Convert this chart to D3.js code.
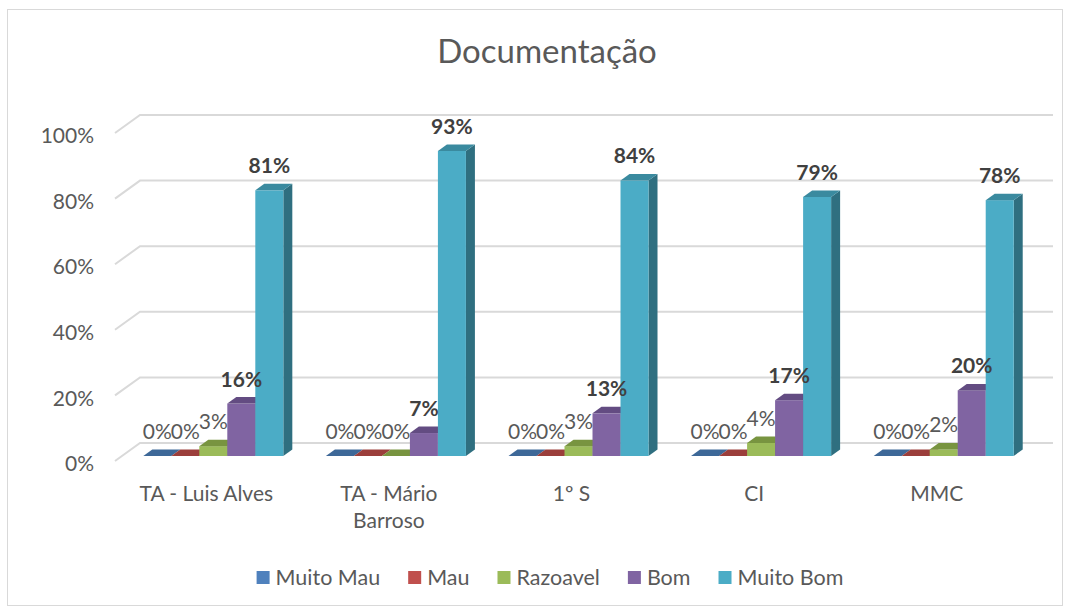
<!DOCTYPE html>
<html>
<head>
<meta charset="utf-8">
<script src="https://cdn.jsdelivr.net/npm/d3@7"></script>
<style>
  body { margin: 0; background: #fff; }
  text { font-family: Lato, "Open Sans", sans-serif; }
</style>
</head>
<body>
<svg id="chart" width="1072" height="612"></svg>
<script>
// data
const categories = ['TA - Luis Alves', 'TA - Mário Barroso', '1º S', 'CI', 'MMC'];
const seriesNames = ['Muito Mau', 'Mau', 'Razoavel', 'Bom', 'Muito Bom'];
const muitoMau = [0, 0, 0, 0, 0];
const mau = [0, 0, 0, 0, 0];
const razoavel = [0.03, 0, 0.03, 0.04, 0.02];
const bom = [0.16, 0.07, 0.13, 0.17, 0.20];
const muitoBom = [0.81, 0.93, 0.84, 0.79, 0.78];
const yTicks = [0, 0.2, 0.4, 0.6, 0.8, 1];

const seriesValues = [muitoMau, mau, razoavel, bom, muitoBom];
const frontColors = ['#4f81bd', '#c0504d', '#9bbb59', '#8064a2', '#4bacc6'];
const topColors = ['#3d6898', '#9b3e3b', '#789440', '#634c82', '#3a8a9f'];
const sideColors = ['#31547e', '#7f302e', '#5f7733', '#4f3c69', '#2f6f80'];
const boldLabel = [false, false, false, true, true];

const svg = d3.select('#chart');

// chart border
svg.append('rect')
  .attr('x', 7.5).attr('y', 9.5)
  .attr('width', 1055).attr('height', 596)
  .attr('fill', '#fff')
  .attr('stroke', '#d9d9d9');

svg.append('text')
  .attr('x', 547).attr('y', 63)
  .attr('text-anchor', 'middle')
  .attr('font-size', 33)
  .attr('fill', '#595959')
  .text('Documentação');

// 3d-ish geometry
const plot = { left: 115, right: 1028, zero: 461, top: 133 };
const wall = { dx: 25, dy: -18 };
const barOff = { dx: 7, dy: -5 };
const depth = { dx: 9, dy: -6.5 };

const x = d3.scaleBand().domain(categories).range([plot.left, plot.right]);
const xs = d3.scaleBand().domain(seriesNames).range([0, x.bandwidth()]).paddingOuter(0.76);
const y = d3.scaleLinear().domain([0, 1]).range([plot.zero, plot.top]);

// gridlines: diagonal side wall + back wall
svg.append('g').selectAll('path')
  .data(yTicks)
  .join('path')
  .attr('d', t => `M${plot.left},${y(t)}L${plot.left + wall.dx},${y(t) + wall.dy}L${plot.right + wall.dx},${y(t) + wall.dy}`)
  .attr('fill', 'none')
  .attr('stroke', '#d9d9d9')
  .attr('stroke-width', 2);

// y axis
const yAxis = svg.append('g')
  .attr('transform', 'translate(94,3)')
  .call(d3.axisLeft(y).tickValues(yTicks).tickFormat(d3.format('.0%')).tickSize(0).tickPadding(0));
yAxis.select('.domain').remove();
yAxis.selectAll('text')
  .attr('font-family', 'Lato, sans-serif')
  .attr('font-size', 21)
  .attr('fill', '#595959');

// category labels, wrapped like excel does
const catG = svg.append('g');
categories.forEach(c => {
  const t = catG.append('text')
    .attr('x', x(c) + x.bandwidth() / 2)
    .attr('y', 501)
    .attr('text-anchor', 'middle')
    .attr('font-size', 21)
    .attr('fill', '#595959');
  const words = c.split(' ');
  let line = [];
  let tspan = t.append('tspan').attr('x', x(c) + x.bandwidth() / 2);
  words.forEach(w => {
    line.push(w);
    tspan.text(line.join(' '));
    if (tspan.node().getComputedTextLength() > 160 && line.length > 1) {
      line.pop();
      tspan.text(line.join(' '));
      line = [w];
      tspan = t.append('tspan')
        .attr('x', x(c) + x.bandwidth() / 2)
        .attr('dy', 27)
        .text(w);
    }
  });
});

// bars
const fmt = d3.format('.0%');
const barsG = svg.append('g');
const labelsG = svg.append('g');
categories.forEach((c, i) => {
  seriesNames.forEach((s, j) => {
    const v = seriesValues[j][i];
    const w = xs.bandwidth();
    const fx = x(c) + xs(s) + barOff.dx;
    const yb = y(0) + barOff.dy;
    const yt = y(v) + barOff.dy;
    const g = barsG.append('g');
    g.append('path')
      .attr('d', `M${fx + w},${yt}L${fx + w + depth.dx},${yt + depth.dy}L${fx + w + depth.dx},${yb + depth.dy}L${fx + w},${yb}Z`)
      .attr('fill', sideColors[j]);
    g.append('rect')
      .attr('x', fx).attr('y', yt)
      .attr('width', w).attr('height', yb - yt)
      .attr('fill', frontColors[j]);
    g.append('path')
      .attr('d', `M${fx},${yt}L${fx + w},${yt}L${fx + w + depth.dx},${yt + depth.dy}L${fx + depth.dx},${yt + depth.dy}Z`)
      .attr('fill', topColors[j]);

    labelsG.append('text')
      .attr('x', fx + w / 2)
      .attr('y', yt - 17)
      .attr('text-anchor', 'middle')
      .attr('font-size', 21)
      .attr('font-weight', boldLabel[j] ? 'bold' : 'normal')
      .attr('fill', boldLabel[j] ? '#404040' : '#595959')
      .text(fmt(v));
  });
});

// legend
const legend = svg.append('g');
let lx = 0;
seriesNames.forEach((s, j) => {
  const item = legend.append('g').attr('transform', `translate(${lx},0)`);
  item.append('rect')
    .attr('x', 0).attr('y', -7)
    .attr('width', 13).attr('height', 13)
    .attr('fill', frontColors[j]);
  const t = item.append('text')
    .attr('x', 19).attr('y', 7)
    .attr('font-size', 21.5)
    .attr('fill', '#595959')
    .text(s);
  lx += 19 + t.node().getComputedTextLength() + 28;
});
const legendW = lx - 28;
legend.attr('transform', `translate(${550 - legendW / 2},578)`);
</script>
</body>
</html>
